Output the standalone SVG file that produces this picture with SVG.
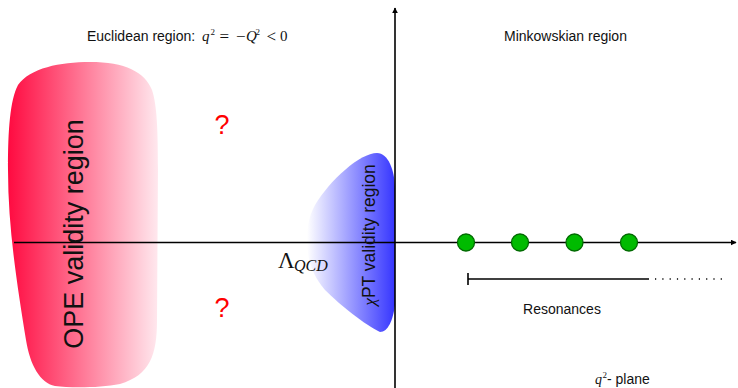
<svg xmlns="http://www.w3.org/2000/svg" width="738" height="388" viewBox="0 0 738 388">
<defs>
<linearGradient id="gOPE" x1="0" y1="0" x2="1" y2="0">
<stop offset="0" stop-color="#ff0a40"/>
<stop offset="1" stop-color="#ffe8ee"/>
</linearGradient>
<linearGradient id="gChi" x1="0" y1="0" x2="1" y2="0">
<stop offset="0" stop-color="#ffffff"/>
<stop offset="1" stop-color="#3535ff"/>
</linearGradient>
<marker id="arr" viewBox="0 0 10 10" refX="9" refY="5" markerWidth="6" markerHeight="6" markerUnits="userSpaceOnUse" orient="auto">
<path d="M0,0 L10,5 L0,10 Z" fill="#000"/>
</marker>
<style>
.sans{font-family:"Liberation Sans",Arial,sans-serif;fill:#111;}
.serif{font-family:"Liberation Serif","Times New Roman",serif;fill:#111;}
.it{font-style:italic;}
.axis{stroke:#000;stroke-width:1.6;fill:none;}
.res{fill:#00bb00;stroke:#006a00;stroke-width:1.3;}
.q{font-family:"Liberation Sans",Arial,sans-serif;fill:#ff0000;font-size:27px;text-anchor:middle;}
</style>
</defs>

<g id="ope-region">
<path d="M90,62 C125,62 145,72 152,90 C157,105 158,130 158,170 L157,320 C157,355 150,375 120,384 C100,388 70,388 55,386 C40,383 30,365 26,340 C18,290 8,230 8,170 C8,130 10,100 18,85 C30,68 60,62 90,62 Z" fill="url(#gOPE)"/>
</g>

<g id="chpt-region">
<path d="M395,190 C395,170 388,153 377,153 C360,153 330,180 315,205 C308,218 307,230 307,240 C307,258 312,275 325,290 C340,305 365,325 380,332 C388,332 393,320 395,305 Z" fill="url(#gChi)"/>
</g>

<g id="connectors">
<line class="axis" x1="14" y1="242.5" x2="736" y2="242.5" marker-end="url(#arr)"/>
<line class="axis" x1="395" y1="388" x2="395" y2="8" marker-end="url(#arr)"/>
<line class="axis" x1="468" y1="279" x2="649" y2="279" stroke-width="1.5"/>
<line class="axis" x1="468" y1="273" x2="468" y2="285" stroke-width="1.5"/>
<line class="axis" x1="655" y1="279" x2="724" y2="279" stroke-width="1.2" stroke-dasharray="1.2 6.1"/>
</g>

<g id="ope-label">
<text class="sans" font-size="27" text-anchor="middle" transform="translate(83,234) rotate(-90)">OPE validity region</text>
</g>

<g id="chpt-label">
<text class="sans" font-size="17.5" text-anchor="middle" transform="translate(375,235) rotate(-90)"><tspan class="serif it">χ</tspan>PT validity region</text>
</g>

<g id="lambda-label">
<text class="serif" x="278" y="268" font-size="23">Λ</text>
<text class="serif it" x="294" y="271" font-size="16">QCD</text>
</g>

<g id="euclidean-label">
<text class="sans" x="87" y="41" font-size="14">Euclidean region:</text>
<text class="serif it" x="202" y="41" font-size="15">q</text>
<text class="serif" x="210.5" y="35" font-size="9">2</text>
<text class="serif" x="219.5" y="41.5" font-size="17">=</text>
<text class="serif" x="236" y="41.5" font-size="17">−</text>
<text class="serif it" x="246" y="41" font-size="15">Q</text>
<text class="serif" x="255.5" y="35" font-size="9">2</text>
<text class="serif" x="266.5" y="41.5" font-size="17">&lt;</text>
<text class="serif" x="280" y="41" font-size="15">0</text>
</g>

<g id="minkowskian-label">
<text class="sans" x="504" y="41" font-size="14">Minkowskian region</text>
</g>

<g id="question-marks">
<text class="q" x="222" y="134">?</text>
<text class="q" x="222" y="317">?</text>
</g>

<g id="resonances">
<circle class="res" cx="466" cy="242.5" r="8.5"/>
<circle class="res" cx="520" cy="242.5" r="8.5"/>
<circle class="res" cx="574.5" cy="242.5" r="8.5"/>
<circle class="res" cx="629" cy="242.5" r="8.5"/>
</g>

<g id="resonances-label">
<text class="sans" x="562" y="314" font-size="14" text-anchor="middle">Resonances</text>
</g>

<g id="plane-label">
<text class="serif it" x="595" y="384" font-size="14">q</text>
<text class="serif" x="602.5" y="378" font-size="9">2</text>
<text class="sans" x="607" y="384" font-size="14">- plane</text>
</g>
</svg>
